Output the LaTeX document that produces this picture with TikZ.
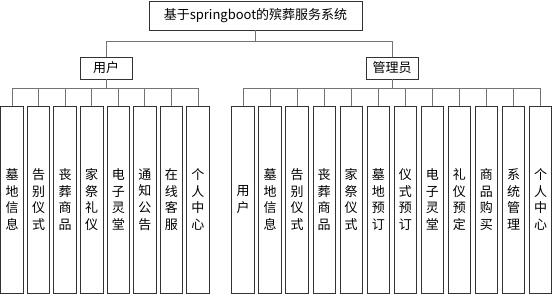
\documentclass[tikz,border=0pt]{standalone}
\usepackage{fontspec}
\setmainfont{Noto Sans CJK SC}
\begin{document}
\begin{tikzpicture}[x=1pt,y=-1pt,
  box/.style={draw=black!80, line width=0.8pt, fill=white, inner sep=0pt,
    font=\fontsize{13}{16.7}\selectfont},
  leaf/.style={box, minimum width=22.5pt, minimum height=187pt, align=center},
  conn/.style={draw=black!55, line width=0.8pt}]
\useasboundingbox (0,0) rectangle (555,296);
\coordinate (bus1) at (0,41);
\coordinate (bus2) at (0,88);
\node[box, minimum width=213pt, minimum height=29pt] (root) at (255.5,15.5) {基于springboot的殡葬服务系统};
\node[box, minimum width=52pt, minimum height=22pt] (user) at (106,68) {用户};
\node[box, minimum width=52pt, minimum height=22pt] (admin) at (392,68) {管理员};
\draw[conn] (root.south) -- (root.south |- bus1);
\draw[conn] (user.north) -- (user.north |- bus1) -- (admin.north |- bus1) -- (admin.north);
\draw[conn] (user.south) -- (user.south |- bus2);
\draw[conn] (admin.south) -- (admin.south |- bus2);
\foreach \t [count=\i from 0] in {{墓\\地\\信\\息},{告\\别\\仪\\式},{丧\\葬\\商\\品},{家\\祭\\礼\\仪},{电\\子\\灵\\堂},{通\\知\\公\\告},{在\\线\\客\\服},{个\\人\\中\\心}}{
  \node[leaf] (u\i) at (12+26.57*\i,199.5) {\t};
  \draw[conn] (u\i.north) |- (user.south |- bus2);
}
\foreach \t [count=\i from 0] in {{用\\户},{墓\\地\\信\\息},{告\\别\\仪\\式},{丧\\葬\\商\\品},{家\\祭\\仪\\式},{墓\\地\\预\\订},{仪\\式\\预\\订},{电\\子\\灵\\堂},{礼\\仪\\预\\定},{商\\品\\购\\买},{系\\统\\管\\理},{个\\人\\中\\心}}{
  \node[leaf] (a\i) at (243+27.05*\i,199.5) {\t};
  \draw[conn] (a\i.north) |- (admin.south |- bus2);
}
\end{tikzpicture}
\end{document}
